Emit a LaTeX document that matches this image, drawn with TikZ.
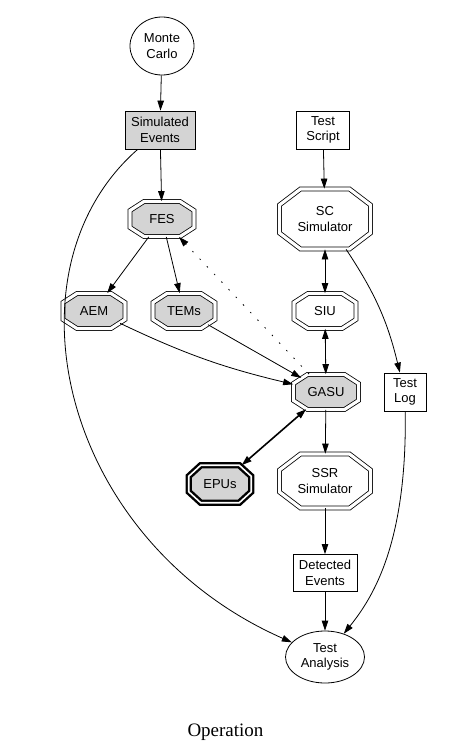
\documentclass[tikz,border=0pt]{standalone}
\usepackage{fontspec}
\setmainfont{Liberation Serif}
\setsansfont{Liberation Sans}
\usetikzlibrary{arrows.meta,shapes.geometric}

% stretched octagon, with its own corner cut
\makeatletter
\pgfkeys{/pgf/octa xcut/.initial=14pt, /pgf/octa ycut/.initial=9pt}
\pgfdeclareshape{gvoctagon}{%
  \inheritsavedanchors[from=rectangle]%
  \inheritanchor[from=rectangle]{center}%
  \inheritanchor[from=rectangle]{north}%
  \inheritanchor[from=rectangle]{south}%
  \inheritanchor[from=rectangle]{east}%
  \inheritanchor[from=rectangle]{west}%
  \savedanchor\octacut{%
    \pgfmathsetlength\pgf@x{\pgfkeysvalueof{/pgf/octa xcut}}%
    \pgfmathsetlength\pgf@y{\pgfkeysvalueof{/pgf/octa ycut}}%
  }%
  \backgroundpath{%
    \pgfmathsetlength\pgf@xc{\pgfkeysvalueof{/pgf/outer xsep}}%
    \pgfmathsetlength\pgf@yc{\pgfkeysvalueof{/pgf/outer ysep}}%
    \southwest \advance\pgf@x by\pgf@xc \advance\pgf@y by\pgf@yc
    \edef\oxl{\the\pgf@x}\edef\oyb{\the\pgf@y}%
    \northeast \advance\pgf@x by-\pgf@xc \advance\pgf@y by-\pgf@yc
    \edef\oxr{\the\pgf@x}\edef\oyt{\the\pgf@y}%
    \octacut \edef\ocx{\the\pgf@x}\edef\ocy{\the\pgf@y}%
    \pgfpathmoveto{\pgfpoint{\oxl}{\oyb+\ocy}}%
    \pgfpathlineto{\pgfpoint{\oxl}{\oyt-\ocy}}%
    \pgfpathlineto{\pgfpoint{\oxl+\ocx}{\oyt}}%
    \pgfpathlineto{\pgfpoint{\oxr-\ocx}{\oyt}}%
    \pgfpathlineto{\pgfpoint{\oxr}{\oyt-\ocy}}%
    \pgfpathlineto{\pgfpoint{\oxr}{\oyb+\ocy}}%
    \pgfpathlineto{\pgfpoint{\oxr-\ocx}{\oyb}}%
    \pgfpathlineto{\pgfpoint{\oxl+\ocx}{\oyb}}%
    \pgfpathclose
  }%
  \anchorborder{%
    \edef\odx{\the\pgf@x}\edef\ody{\the\pgf@y}%
    \southwest \edef\oxl{\the\pgf@x}\edef\oyb{\the\pgf@y}%
    \northeast \edef\oxr{\the\pgf@x}\edef\oyt{\the\pgf@y}%
    \octacut \edef\ocx{\pgf@sys@tonumber\pgf@x}\edef\ocy{\pgf@sys@tonumber\pgf@y}%
    \pgfpointnormalised{\pgfqpoint{\odx}{\ody}}%
    \edef\oux{\pgf@sys@tonumber\pgf@x}\edef\ouy{\pgf@sys@tonumber\pgf@y}%
    \pgfmathsetmacro\oa{(\oxr-\oxl)/2}%
    \pgfmathsetmacro\ob{(\oyt-\oyb)/2}%
    \pgfmathsetmacro\octt{min(\oa/max(abs(\oux),0.01), \ob/max(abs(\ouy),0.01),
      (\ocy*\oa+\ocx*\ob-\ocx*\ocy)/max(\ocy*abs(\oux)+\ocx*abs(\ouy),0.01))}%
    \pgfmathsetlength\pgf@xa{(\oxl+\oxr)/2+\octt*\oux}%
    \pgfmathsetlength\pgf@ya{(\oyb+\oyt)/2+\octt*\ouy}%
    \pgf@x=\pgf@xa \pgf@y=\pgf@ya
  }%
}
\makeatother

\begin{document}
\begin{tikzpicture}[
  x=1pt, y=-1pt,
  every node/.style={font=\sffamily\fontsize{13}{15.5}\selectfont, align=center, inner sep=0pt},
  box/.style={draw, rectangle, line width=0.8pt},
  oval/.style={draw, ellipse, line width=0.8pt},
  octa/.style={draw, shape=gvoctagon, double, double distance=3.2pt, line width=0.8pt,
    fill=white, minimum width=62, minimum height=35},
  bigocta/.style={octa, /pgf/octa xcut=21pt, /pgf/octa ycut=16pt},
  unit/.style={octa, fill=black!17},
  heavy/.style={line width=2.4pt, double distance=1.6pt, /pgf/octa xcut=12pt, /pgf/octa ycut=11pt},
  >={Triangle[length=10pt,width=6.5pt]},
  edge/.style={->, line width=0.8pt}
]
\useasboundingbox (0,0) rectangle (448,752);
% Top row: source of events and test script
\node[oval, minimum width=64, minimum height=58] (mc) at (162,46) {Monte\\Carlo};
\node[box, fill=black!17, minimum width=70, minimum height=38] (simev) at (160,130) {Simulated\\Events};
\node[box, minimum width=53, minimum height=38] (script) at (323,130) {Test\\Script};
% Front end and simulators
\node[unit, minimum width=64] (fes) at (162,219) {FES};
\node[bigocta, minimum width=91, minimum height=60] (scsim) at (325,219) {SC\\Simulator};
\node[unit] (aem) at (94,311) {AEM};
\node[unit] (tems) at (184,311) {TEMs};
\node[octa] (siu) at (325,311) {SIU};
\node[unit, minimum width=65] (gasu) at (326,392) {GASU};
\node[box, minimum width=42, minimum height=38] (testlog) at (405,392) {Test\\Log};
\node[unit, heavy, minimum width=62.5, minimum height=37.5] (epus) at (220,484) {EPUs};
\node[bigocta, minimum width=91, minimum height=54] (ssr) at (325,481) {SSR\\Simulator};
% Output and analysis
\node[box, minimum width=64, minimum height=37] (detev) at (325,573) {Detected\\Events};
\node[oval, minimum width=79, minimum height=52] (testan) at (325,657) {Test\\Analysis};
\node[anchor=base, font=\rmfamily\fontsize{19}{22}\selectfont] (caption) at (225.5,736) {Operation};
% Edges
\draw[edge] (mc) -- (simev);
\draw[edge] (simev) -- (fes);
\draw[edge] (simev.221) .. controls (0,270) and (60,540) .. (testan);
\draw[edge] (script) -- (scsim);
\draw[edge] (fes) -- (aem);
\draw[edge] (fes) -- (tems);
\draw[edge, dash pattern=on 1.5pt off 9pt] (gasu) -- (fes);
\draw[edge] (aem) to[bend right=6] (gasu);
\draw[edge] (tems) -- (gasu);
\draw[edge, <->] (scsim) -- (siu);
\draw[edge, <->] (siu) -- (gasu);
\draw[edge] (scsim) to[bend left=10] (testlog);
\draw[edge, <->, line width=1.6pt] (gasu) -- (epus);
\draw[edge] (gasu) -- (ssr);
\draw[edge] (ssr) -- (detev);
\draw[edge] (detev) -- (testan);
\draw[edge] (testlog) .. controls (407,540) and (375,595) .. (testan);
\end{tikzpicture}
\end{document}
